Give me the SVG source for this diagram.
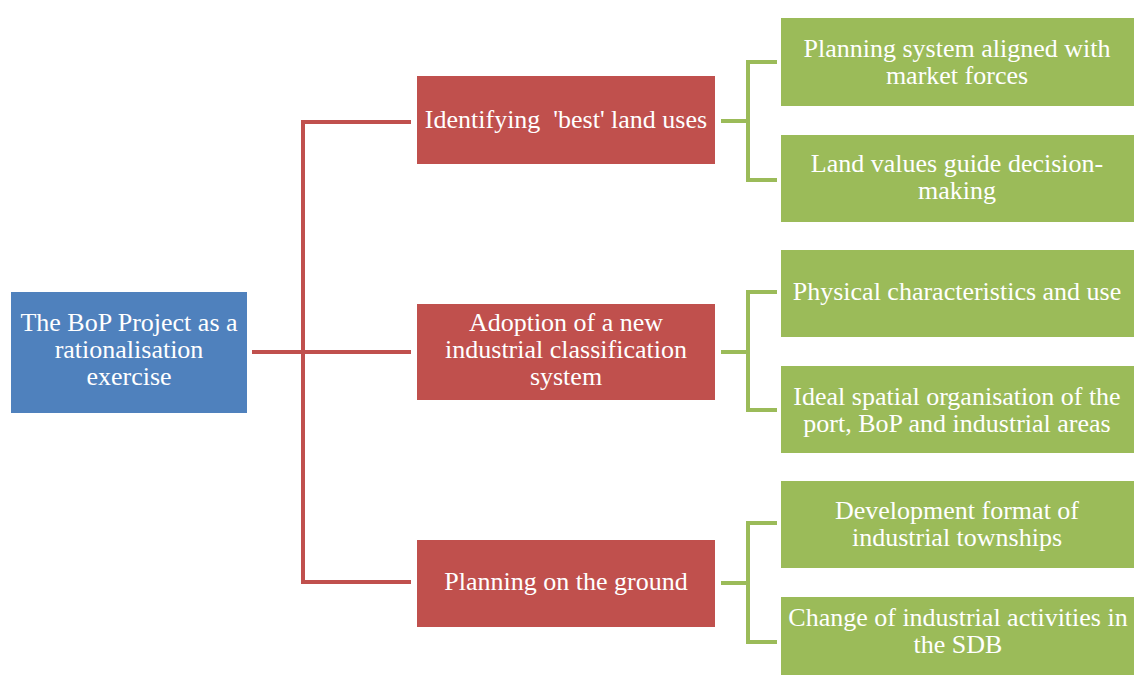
<svg xmlns="http://www.w3.org/2000/svg" width="1134" height="677" viewBox="0 0 1134 677">
  <style>
    .root { fill: #4F81BD; }
    .mid { fill: #C0504D; }
    .leaf { fill: #9BBB59; }
    .lbl { font-family: 'Liberation Serif', 'DejaVu Serif', 'Times New Roman', Times, serif; font-size: 26px; fill: #FFFFFF; text-anchor: middle; }
    .redline { fill: none; stroke: #C0504D; stroke-width: 4; }
    .greenline { fill: none; stroke: #9BBB59; stroke-width: 4; }
  </style>
  <rect width="1134" height="677" fill="#FFFFFF"/>

  <!-- connectors -->
  <g id="connectors">
    <path class="redline" d="M252,352 H411"/>
    <path class="redline" d="M411,122 H303 V582 H411"/>
    <path class="greenline" d="M721,121 H748"/>
    <path class="greenline" d="M777,62 H748 V180 H777"/>
    <path class="greenline" d="M721,352 H748"/>
    <path class="greenline" d="M777,292 H748 V410 H777"/>
    <path class="greenline" d="M721,583 H748"/>
    <path class="greenline" d="M777,523 H748 V642 H777"/>
  </g>

  <!-- root -->
  <g id="root">
    <rect class="root" x="11" y="292" width="236" height="121"/>
    <text class="lbl" x="129" y="331">The BoP Project as a</text>
    <text class="lbl" x="129" y="358">rationalisation</text>
    <text class="lbl" x="129" y="385">exercise</text>
  </g>

  <!-- second level -->
  <g id="best-land-uses">
    <rect class="mid" x="417" y="76" width="298" height="88"/>
    <text class="lbl" x="566" y="128" xml:space="preserve">Identifying  'best' land uses</text>
  </g>
  <g id="classification">
    <rect class="mid" x="417" y="304" width="298" height="96"/>
    <text class="lbl" x="566" y="331">Adoption of a new</text>
    <text class="lbl" x="566" y="358">industrial classification</text>
    <text class="lbl" x="566" y="385">system</text>
  </g>
  <g id="on-the-ground">
    <rect class="mid" x="417" y="540" width="298" height="87"/>
    <text class="lbl" x="566" y="590">Planning on the ground</text>
  </g>

  <!-- third level -->
  <g id="market-forces">
    <rect class="leaf" x="781" y="18" width="353" height="88"/>
    <text class="lbl" x="957" y="57">Planning system aligned with</text>
    <text class="lbl" x="957" y="84">market forces</text>
  </g>
  <g id="land-values">
    <rect class="leaf" x="781" y="135" width="353" height="87"/>
    <text class="lbl" x="957" y="172">Land values guide decision-</text>
    <text class="lbl" x="957" y="199">making</text>
  </g>
  <g id="physical">
    <rect class="leaf" x="781" y="250" width="353" height="87"/>
    <text class="lbl" x="957" y="300">Physical characteristics and use</text>
  </g>
  <g id="spatial-organisation">
    <rect class="leaf" x="781" y="366" width="353" height="87"/>
    <text class="lbl" x="957" y="405">Ideal spatial organisation of the</text>
    <text class="lbl" x="957" y="432">port, BoP and industrial areas</text>
  </g>
  <g id="townships">
    <rect class="leaf" x="781" y="481" width="353" height="87"/>
    <text class="lbl" x="957" y="519">Development format of</text>
    <text class="lbl" x="957" y="546">industrial townships</text>
  </g>
  <g id="activities">
    <rect class="leaf" x="781" y="597" width="353" height="78"/>
    <text class="lbl" x="958" y="626">Change of industrial activities in</text>
    <text class="lbl" x="958" y="653">the SDB</text>
  </g>
</svg>
